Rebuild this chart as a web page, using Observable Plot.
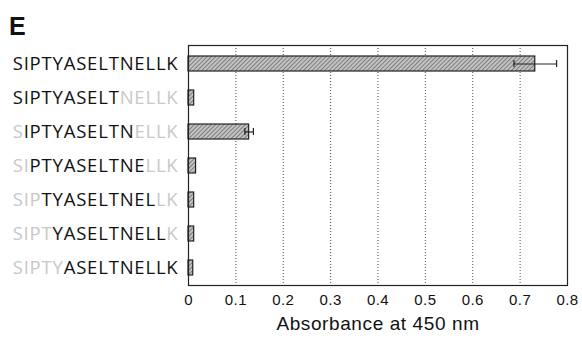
<!DOCTYPE html>
<html><head><meta charset="utf-8">
<script src="https://cdn.jsdelivr.net/npm/d3@7"></script>
<script src="https://cdn.jsdelivr.net/npm/@observablehq/plot@0.6"></script>
<style>
body{margin:0;background:#fff;}
#wrap{position:relative;width:582px;height:339px;}
#panel{position:absolute;left:9px;top:12px;line-height:1;font:bold 25px "Liberation Sans",Arial,sans-serif;color:#111;}
</style></head>
<body><div id="wrap"><div id="panel">E</div></div>
<script>
const peptides = ["SIPTYASELTNELLK","SIPTYASELTNELLK","SIPTYASELTNELLK","SIPTYASELTNELLK","SIPTYASELTNELLK","SIPTYASELTNELLK","SIPTYASELTNELLK"];
// highlighted (black) residue range [start, end) within each label; rest is gray
const hiStart = [0, 0, 1, 2, 3, 4, 5];
const hiEnd   = [15, 10, 11, 12, 13, 14, 15];
const ids = ["p1","p2","p3","p4","p5","p6","p7"];
const values = [0.732, 0.012, 0.128, 0.016, 0.012, 0.012, 0.010];
const errors = [0.045, 0, 0.009, 0, 0, 0, 0];
const xTicks = [0, 0.1, 0.2, 0.3, 0.4, 0.5, 0.6, 0.7, 0.8];
const xLabel = "Absorbance at 450 nm";

const data = ids.map((id, i) => ({id, v: values[i], e: errors[i]}));
const errData = data.filter(d => d.e > 0);

const chart = Plot.plot({
  width: 582, height: 339,
  marginTop: 45, marginBottom: 54, marginLeft: 188, marginRight: 15,
  style: {fontFamily: "'Liberation Sans', Arial, sans-serif", fontSize: "15px", color: "#111"},
  x: {domain: [0, 0.8], ticks: xTicks, tickFormat: d => d === 0 ? "0" : String(d), tickSize: 0, tickPadding: 8, label: null},
  y: {domain: ids, paddingInner: 0.56, paddingOuter: 0.28, label: null, tickSize: 0, tickPadding: 10},
  marks: [
    Plot.gridX(xTicks.slice(1, -1), {stroke: "#333", strokeOpacity: 0.85, strokeDasharray: "1,2"}),
    Plot.barX(data, {x: "v", y: "id", fill: "url(#hatch)", stroke: "#222", strokeWidth: 1.2}),
    Plot.ruleY(errData, {y: "id", x1: d => d.v - d.e, x2: d => d.v + d.e, stroke: "#222", strokeWidth: 1.2}),
    Plot.tickX(errData, {x: d => d.v - d.e, y: "id", stroke: "#222", strokeWidth: 1.2, insetTop: 4, insetBottom: 4}),
    Plot.tickX(errData, {x: d => d.v + d.e, y: "id", stroke: "#222", strokeWidth: 1.2, insetTop: 4, insetBottom: 4}),
    Plot.frame({stroke: "#222", strokeWidth: 1.2}),
    Plot.axisY({tickSize: 0, tickPadding: 10, tickFormat: d => peptides[ids.indexOf(d)]}),
    Plot.axisX({ticks: xTicks, tickSize: 0, tickPadding: 9, tickFormat: d => d === 0 ? "0" : String(d), label: null}),
    Plot.text([xLabel], {frameAnchor: "bottom", dy: 44, text: d => d, fill: "#111", className: "xtitle"})
  ]
});

// hatch pattern
const ns = "http://www.w3.org/2000/svg";
const defs = document.createElementNS(ns, "defs");
defs.innerHTML = '<pattern id="hatch" width="3" height="3" patternUnits="userSpaceOnUse" patternTransform="rotate(45)"><rect width="3" height="3" fill="#c4c4c4"/><line x1="0" y1="0" x2="0" y2="3" stroke="#4a4a4a" stroke-width="1.2"/></pattern>';
chart.insertBefore(defs, chart.firstChild);

// x tick labels and title font sizes
chart.querySelectorAll('g[aria-label="x-axis tick label"] text').forEach(t => {
  t.setAttribute("font-size", "15"); t.style.letterSpacing = "0.4px";
});
chart.querySelectorAll('.xtitle text, g.xtitle text').forEach(t => {
  t.setAttribute("font-size", "19"); t.style.letterSpacing = "0.6px";
});

// color label residues: highlighted black, others light gray
const yTexts = chart.querySelectorAll('g[aria-label="y-axis tick label"] text');
yTexts.forEach((t, i) => {
  const s = peptides[i];
  t.textContent = "";
  t.setAttribute("font-size", "18.5");
  t.setAttribute("font-family", "'Open Sans', sans-serif");
  t.style.letterSpacing = "0.8px";
  const parts = [[s.slice(0, hiStart[i]), "#c8c8c8"], [s.slice(hiStart[i], hiEnd[i]), "#111"], [s.slice(hiEnd[i]), "#c8c8c8"]];
  parts.forEach(([txt, col]) => {
    if (!txt) return;
    const ts = document.createElementNS(ns, "tspan");
    ts.textContent = txt;
    ts.setAttribute("fill", col);
    t.appendChild(ts);
  });
});

document.getElementById("wrap").appendChild(chart);
</script>
</body></html>
